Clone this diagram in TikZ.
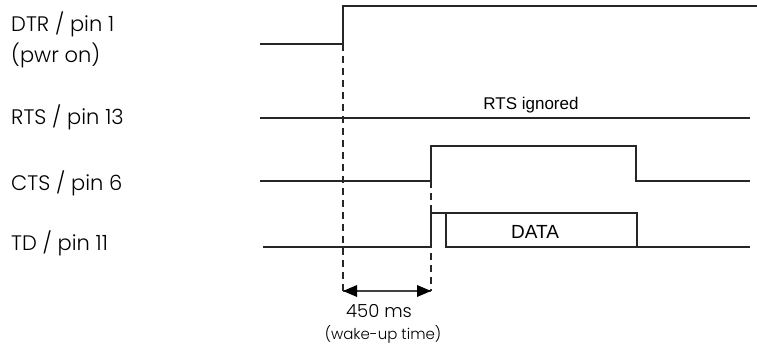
\documentclass[tikz,border=0pt]{standalone}
\usepackage{fontspec}
\IfFontExistsTF{Poppins Light}{\setmainfont{Poppins Light}}{\setmainfont{Poppins}}
\newfontfamily\plainsans{Liberation Sans}

\begin{document}
\begin{tikzpicture}[x=1pt,y=-1pt,
  signal/.style={line width=1.4pt,draw=black!85,line join=miter},
  guide/.style={line width=1.2pt,draw=black!85,dash pattern=on 7pt off 5pt},
  span/.style={line width=1.4pt,draw=black!75},
  head/.style={fill=black},
  pinlabel/.style={anchor=base west,inner sep=0pt,font=\fontsize{21}{24}\selectfont},
  note/.style={anchor=base,inner sep=0pt,font=\plainsans\fontsize{17}{19}\selectfont},
  timelabel/.style={anchor=base,inner sep=0pt}]
  \useasboundingbox (0,0) rectangle (757,344);

  % signal names
  \node[pinlabel] (ldtr) at (11,32) {DTR / pin 1};
  \node[pinlabel] (lpwr) at (11,63) {(pwr on)};
  \node[pinlabel] (lrts) at (11,125) {RTS / pin 13};
  \node[pinlabel] (lcts) at (11,191) {CTS / pin 6};
  \node[pinlabel] (ltd)  at (11,251) {TD / pin 11};

  % time markers
  \coordinate (t0) at (343,0);
  \coordinate (t1) at (431,0);

  % DTR: power on
  \draw[signal] (260,44) coordinate (dtrA) -- (dtrA -| t0) |- (757,6) coordinate (dtrB);

  % RTS: constant level
  \draw[signal] (260,118) coordinate (rtsA) -- (750,118) coordinate (rtsB);
  \node[note] (rtsnote) at (531,110) {RTS ignored};

  % CTS: raised after the wake-up time
  \draw[signal] (260,181) coordinate (ctsA) -- (ctsA -| t1) |- (636,146) coordinate (ctsC)
        -- (636,181) -- (750,181) coordinate (ctsB);

  % TD: start bit followed by the data frame
  \draw[signal] (263,247) coordinate (tdA) -- (tdA -| t1) |- (637,213) coordinate (tdC)
        -- (637,247) -- (750,247) coordinate (tdB);
  \draw[signal] (446,213) coordinate (frameA) -- (446,247) -- (637,247);
  \node[note,font=\plainsans\fontsize{19}{21}\selectfont] (data) at (535,239) {DATA};

  % wake-up interval
  \coordinate (g0) at (343,44);
  \coordinate (g1) at (431,181);
  \coordinate (a0) at (343,291);
  \coordinate (a1) at (431,291);
  \draw[guide] (g0) -- (a0);
  \draw[guide] (g1) -- (a1);
  \draw[span] (a0) -- (a1);
  \fill[head] (a0) -- ++(14,-6) -- ++(0,12) -- cycle;
  \fill[head] (a1) -- ++(-14,-6) -- ++(0,12) -- cycle;
  \node[timelabel,font=\fontsize{18}{20}\selectfont] (ms) at (379,318) {450 ms};
  \node[timelabel,font=\fontsize{15}{17}\selectfont] (wake) at (383,339) {(wake-up time)};
\end{tikzpicture}
\end{document}
